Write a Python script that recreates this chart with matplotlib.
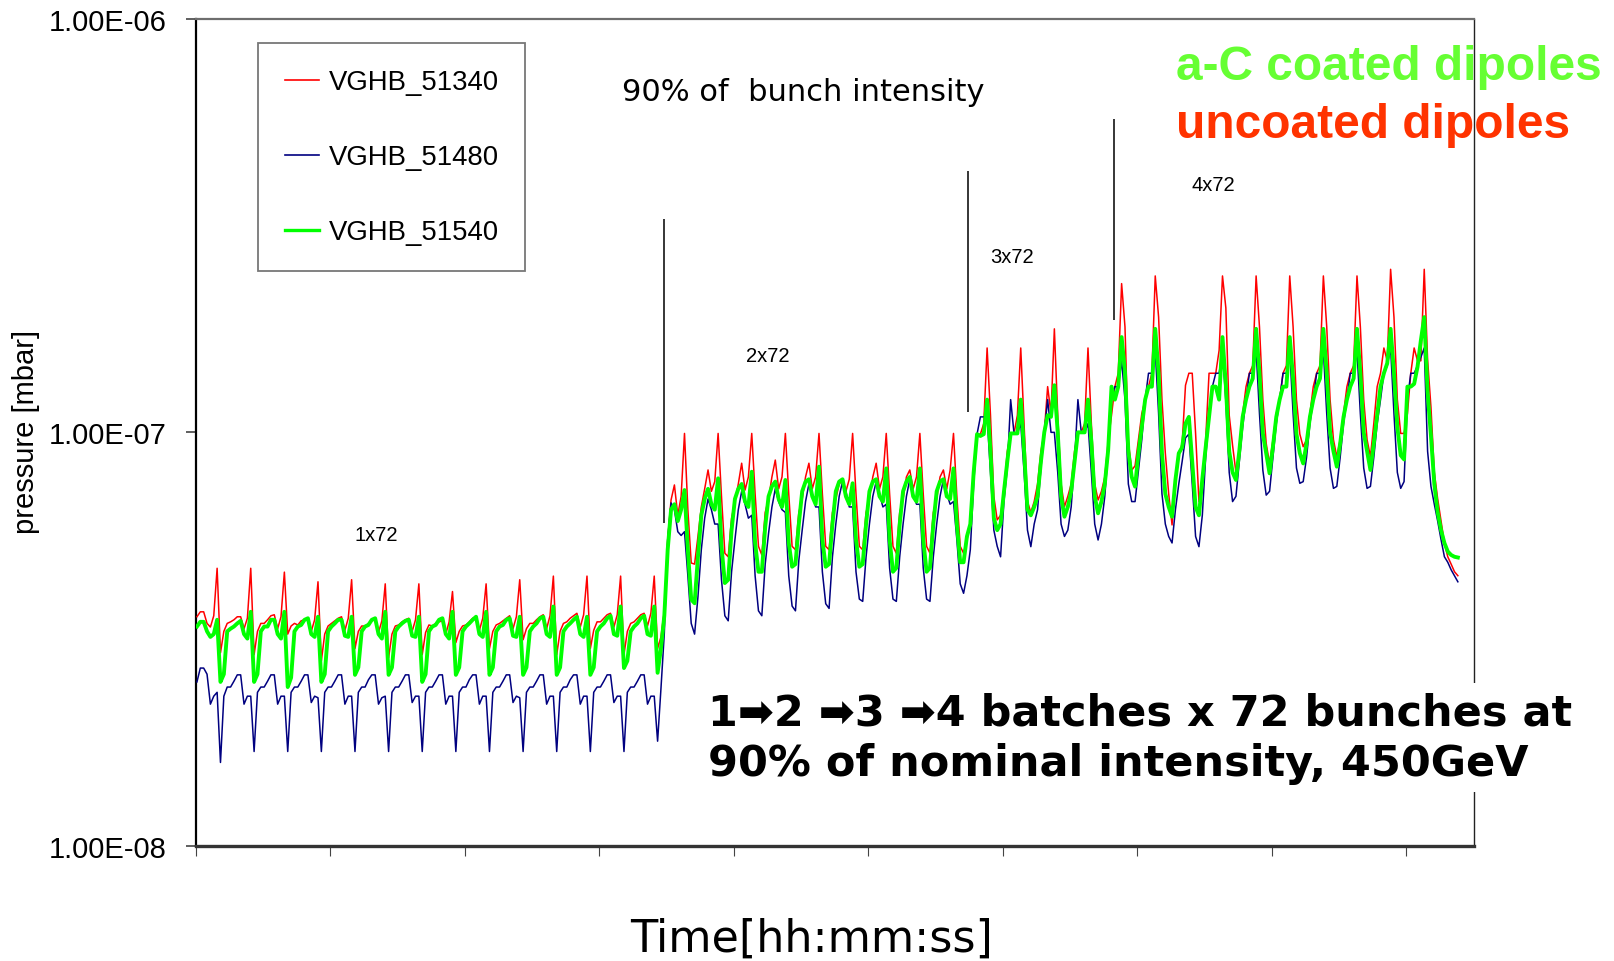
import matplotlib
matplotlib.use("Agg")
import matplotlib.pyplot as plt
import numpy as np
from matplotlib.ticker import FixedLocator, NullLocator, NullFormatter

# ---------------- data (pressure in units of 1e-8 mbar) ----------------
UNIT = 1e-8
T0 = 0.01      # time of first sample (tick units)
DT = 0.025     # sampling step (tick units)

# VGHB_51340 (red)
red_1x72 = [
    3.58, 3.68, 3.68, 3.45, 3.38, 3.60, 4.69, 2.93, 3.30, 3.45,
    3.48, 3.52, 3.58, 3.58, 3.35, 3.55, 4.69, 2.90, 3.30, 3.45,
    3.45, 3.52, 3.60, 3.62, 3.35, 3.58, 4.59, 3.25, 3.40, 3.45,
    3.42, 3.50, 3.52, 3.55, 3.30, 3.52, 4.35, 2.80, 3.25, 3.40,
    3.45, 3.50, 3.55, 3.58, 3.32, 3.55, 4.40, 3.00, 3.30, 3.40,
    3.40, 3.45, 3.50, 3.52, 3.28, 3.50, 4.30, 2.85, 3.25, 3.40,
    3.42, 3.48, 3.52, 3.55, 3.30, 3.52, 4.30, 2.90, 3.28, 3.42,
    3.40, 3.45, 3.48, 3.50, 3.25, 3.48, 4.12, 3.10, 3.30, 3.40,
    3.42, 3.48, 3.55, 3.58, 3.32, 3.55, 4.30, 3.00, 3.30, 3.42,
    3.45, 3.50, 3.55, 3.60, 3.35, 3.58, 4.40, 3.15, 3.35, 3.45,
    3.45, 3.52, 3.58, 3.62, 3.35, 3.60, 4.49, 2.90, 3.30, 3.45,
    3.48, 3.55, 3.60, 3.65, 3.38, 3.62, 4.49, 3.00, 3.32, 3.48,
    3.48, 3.55, 3.62, 3.65, 3.38, 3.62, 4.49, 2.90, 3.30, 3.45,
    3.48, 3.55, 3.62, 3.65, 3.40, 3.65, 4.49, 3.00, 3.20, 3.70,
]
red_2x72 = [
    5.50, 6.86, 7.46, 6.30, 7.00, 9.94, 6.50, 4.83, 4.80, 5.60,
    6.60, 7.30, 8.11, 7.20, 7.60, 9.94, 7.00, 5.10, 5.00, 6.20,
    6.80, 7.50, 8.42, 7.25, 7.80, 9.94, 7.10, 5.30, 5.05, 6.40,
    6.90, 7.80, 8.57, 7.30, 7.80, 9.94, 7.10, 5.30, 5.20, 6.40,
    6.90, 7.80, 8.42, 7.30, 7.80, 9.94, 7.10, 5.30, 5.20, 6.40,
    6.90, 7.50, 7.67, 7.20, 7.70, 9.94, 7.10, 5.30, 5.20, 6.40,
    6.90, 7.80, 8.42, 7.30, 7.80, 9.94, 7.10, 5.30, 5.10, 6.40,
    6.90, 7.80, 8.11, 7.30, 7.80, 9.94, 7.10, 5.30, 5.10, 6.40,
    6.90, 7.80, 8.11, 7.30, 8.10, 9.94, 7.00, 5.30, 5.10, 5.50,
]
red_3x72 = [
    6.00, 8.00, 9.90, 9.90, 10.5, 16.0, 11.0, 7.00, 6.14, 6.30,
    7.20, 9.00, 9.94, 9.94, 11.0, 16.0, 10.5, 6.80, 6.40, 6.80,
    7.50, 9.00, 10.0, 12.9, 11.1, 17.8, 11.0, 7.50, 6.61, 7.00,
    7.50, 9.00, 10.0, 10.0, 10.5, 16.0, 10.5, 7.50, 6.86, 7.20,
]
red_4x72 = [
    7.80, 9.50, 11.0, 12.9, 13.9, 22.9, 18.0, 9.50, 8.10, 8.30,
    9.60, 11.1, 12.0, 12.9, 13.9, 23.9, 19.0, 12.0, 8.90, 7.10,
    5.97, 7.70, 8.80, 9.40, 13.0, 13.9, 13.9, 9.94, 6.80, 7.60,
    9.60, 13.9, 13.9, 13.9, 15.8, 23.9, 20.0, 11.0, 9.30, 8.00,
    9.00, 11.1, 12.9, 13.9, 14.5, 23.9, 18.0, 12.0, 9.40, 8.40,
    9.58, 11.1, 12.0, 13.9, 14.5, 23.9, 18.0, 12.0, 9.90, 9.23,
    9.60, 11.1, 12.9, 13.9, 14.5, 23.9, 18.0, 12.0, 9.60, 8.73,
    9.60, 11.1, 12.9, 13.9, 14.5, 23.9, 18.0, 12.0, 9.60, 8.73,
    10.5, 12.9, 13.9, 16.0, 14.9, 24.8, 19.0, 12.0, 9.94, 9.94,
    11.1, 13.9, 16.0, 14.9, 14.9, 24.8, 15.0, 11.5, 8.00, 6.90,
]
red_tail = [6.10, 5.40, 5.00, 4.80, 4.60, 4.50]

# VGHB_51480 (navy)
blue_1x72 = [
    2.49, 2.69, 2.69, 2.60, 2.20, 2.30, 2.35, 1.59, 2.30, 2.42,
    2.42, 2.50, 2.59, 2.59, 2.20, 2.30, 2.30, 1.69, 2.35, 2.42,
    2.42, 2.50, 2.59, 2.59, 2.20, 2.30, 2.30, 1.69, 2.35, 2.42,
    2.42, 2.50, 2.59, 2.59, 2.22, 2.30, 2.28, 1.69, 2.35, 2.42,
    2.42, 2.50, 2.59, 2.59, 2.20, 2.30, 2.30, 1.69, 2.35, 2.42,
    2.42, 2.52, 2.59, 2.59, 2.20, 2.28, 2.30, 1.69, 2.35, 2.42,
    2.42, 2.50, 2.59, 2.59, 2.22, 2.30, 2.30, 1.69, 2.35, 2.42,
    2.42, 2.50, 2.59, 2.59, 2.20, 2.30, 2.30, 1.69, 2.35, 2.42,
    2.42, 2.52, 2.59, 2.59, 2.20, 2.30, 2.30, 1.69, 2.35, 2.42,
    2.42, 2.50, 2.59, 2.59, 2.22, 2.30, 2.28, 1.69, 2.35, 2.42,
    2.42, 2.50, 2.59, 2.59, 2.20, 2.30, 2.30, 1.69, 2.35, 2.42,
    2.42, 2.52, 2.59, 2.59, 2.20, 2.30, 2.30, 1.69, 2.35, 2.42,
    2.42, 2.50, 2.59, 2.59, 2.22, 2.30, 2.30, 1.69, 2.35, 2.42,
    2.42, 2.50, 2.59, 2.59, 2.20, 2.30, 2.30, 1.79, 2.40, 3.27,
]
blue_2x72 = [
    5.50, 6.75, 6.50, 5.75, 5.63, 5.75, 4.50, 3.45, 3.25, 4.00,
    5.20, 6.20, 6.90, 6.50, 6.00, 6.00, 4.40, 3.60, 3.50, 4.60,
    5.50, 6.50, 7.20, 6.70, 6.20, 6.30, 4.50, 3.70, 3.60, 4.80,
    5.70, 6.60, 7.30, 6.80, 6.50, 6.40, 4.50, 3.80, 3.70, 4.90,
    5.80, 6.80, 7.50, 7.10, 6.60, 6.60, 4.60, 3.85, 3.75, 5.00,
    6.00, 7.00, 7.60, 7.20, 6.60, 6.60, 4.60, 3.95, 3.90, 5.00,
    6.00, 7.00, 7.60, 7.10, 6.60, 6.70, 4.70, 3.95, 3.90, 5.00,
    6.00, 7.00, 7.70, 7.10, 6.70, 6.70, 4.70, 3.95, 3.90, 5.00,
    6.00, 7.00, 7.70, 7.10, 6.70, 6.80, 5.50, 4.30, 4.08, 4.50,
]
blue_3x72 = [
    5.20, 7.50, 9.90, 10.9, 10.9, 10.9, 8.00, 5.80, 5.30, 5.00,
    6.80, 8.20, 12.0, 9.94, 9.94, 10.5, 8.00, 5.80, 5.29, 6.00,
    6.50, 8.20, 10.0, 12.0, 10.0, 10.0, 8.00, 6.00, 5.60, 5.80,
    6.60, 8.50, 12.0, 10.0, 10.0, 10.5, 8.00, 6.00, 5.49, 6.00,
]
blue_4x72 = [
    7.00, 9.00, 12.0, 12.9, 12.9, 14.9, 12.0, 7.50, 6.80, 6.80,
    8.10, 9.60, 12.0, 13.9, 13.9, 15.8, 11.1, 7.10, 6.00, 5.60,
    5.40, 6.50, 7.50, 8.50, 9.70, 9.90, 7.50, 5.60, 5.29, 6.30,
    8.70, 10.9, 12.9, 13.9, 13.9, 15.8, 11.9, 8.00, 6.80, 7.00,
    8.50, 10.3, 12.0, 13.9, 13.9, 15.8, 11.1, 8.10, 7.05, 7.20,
    8.70, 10.5, 12.0, 13.9, 13.9, 15.8, 11.1, 8.20, 7.53, 7.60,
    8.70, 10.5, 12.0, 13.9, 13.9, 15.8, 11.1, 8.20, 7.32, 7.40,
    8.70, 10.5, 12.0, 13.9, 13.9, 15.8, 11.1, 8.20, 7.32, 7.40,
    8.70, 10.5, 12.0, 13.9, 14.5, 16.0, 11.1, 8.00, 7.32, 7.60,
    12.0, 13.9, 13.9, 14.5, 15.2, 16.0, 9.00, 7.40, 6.70, 6.10,
]
blue_tail = [5.50, 5.00, 4.85, 4.65, 4.50, 4.35]

# VGHB_51540 (green)
green_1x72 = [
    3.39, 3.48, 3.48, 3.30, 3.20, 3.25, 3.52, 2.49, 2.60, 3.30,
    3.35, 3.39, 3.45, 3.50, 3.25, 3.17, 3.68, 2.49, 2.60, 3.30,
    3.39, 3.39, 3.52, 3.52, 3.25, 3.17, 3.68, 2.42, 2.55, 3.30,
    3.39, 3.42, 3.52, 3.55, 3.25, 3.20, 3.58, 2.49, 2.60, 3.30,
    3.39, 3.45, 3.52, 3.52, 3.22, 3.20, 3.58, 2.59, 2.70, 3.30,
    3.39, 3.42, 3.52, 3.55, 3.25, 3.17, 3.68, 2.59, 2.70, 3.30,
    3.39, 3.45, 3.50, 3.52, 3.22, 3.20, 3.58, 2.49, 2.60, 3.30,
    3.39, 3.42, 3.52, 3.55, 3.25, 3.17, 3.68, 2.59, 2.70, 3.30,
    3.39, 3.45, 3.52, 3.58, 3.25, 3.20, 3.68, 2.59, 2.70, 3.30,
    3.39, 3.42, 3.52, 3.55, 3.22, 3.20, 3.58, 2.59, 2.70, 3.30,
    3.39, 3.45, 3.55, 3.58, 3.25, 3.20, 3.79, 2.59, 2.70, 3.30,
    3.39, 3.45, 3.52, 3.58, 3.25, 3.20, 3.58, 2.59, 2.70, 3.30,
    3.39, 3.45, 3.55, 3.60, 3.25, 3.22, 3.79, 2.69, 2.80, 3.30,
    3.39, 3.45, 3.55, 3.60, 3.25, 3.22, 3.79, 2.62, 3.00, 3.60,
]
green_2x72 = [
    5.20, 6.50, 6.70, 6.10, 6.50, 7.25, 5.20, 3.94, 3.86, 5.00,
    6.30, 6.90, 7.30, 6.70, 6.50, 7.74, 5.30, 4.32, 4.40, 5.80,
    6.90, 7.30, 7.50, 6.80, 6.60, 8.03, 5.40, 4.60, 4.60, 5.90,
    7.00, 7.40, 7.60, 6.90, 6.60, 7.67, 5.40, 4.73, 4.80, 6.00,
    7.20, 7.60, 7.70, 7.00, 6.70, 8.26, 5.50, 4.73, 4.80, 6.00,
    7.20, 7.60, 7.70, 7.00, 6.70, 7.53, 5.50, 4.73, 4.80, 6.00,
    7.20, 7.60, 7.70, 7.00, 6.80, 8.18, 5.50, 4.60, 4.70, 6.00,
    7.20, 7.60, 7.80, 7.00, 6.80, 8.18, 5.50, 4.60, 4.70, 6.00,
    7.20, 7.60, 7.70, 7.00, 6.90, 8.18, 6.00, 4.85, 4.85, 5.60,
]
green_3x72 = [
    6.00, 8.00, 9.90, 9.80, 9.90, 12.0, 9.00, 6.20, 5.80, 6.00,
    7.18, 8.50, 9.94, 9.94, 9.94, 12.0, 9.00, 6.50, 6.30, 6.60,
    7.00, 8.50, 10.0, 11.0, 10.9, 13.0, 10.0, 7.00, 6.25, 6.60,
    7.20, 8.50, 10.0, 10.0, 10.0, 12.0, 9.50, 7.00, 6.37, 6.80,
]
green_4x72 = [
    7.50, 9.06, 12.9, 12.0, 12.9, 17.0, 14.0, 9.00, 7.80, 7.39,
    8.90, 10.3, 12.0, 12.9, 12.9, 17.8, 13.9, 8.90, 7.10, 6.60,
    6.25, 7.67, 8.90, 9.20, 10.5, 10.9, 8.50, 6.60, 6.30, 7.70,
    9.20, 10.9, 12.9, 12.9, 12.0, 17.0, 13.0, 9.00, 8.00, 7.67,
    9.00, 10.9, 12.0, 12.9, 13.5, 17.8, 13.9, 9.94, 8.90, 7.96,
    9.23, 10.9, 12.0, 12.9, 12.9, 17.0, 13.5, 9.90, 8.90, 8.41,
    9.40, 10.9, 12.0, 12.9, 13.5, 17.8, 13.9, 10.0, 9.00, 8.26,
    9.40, 10.9, 12.0, 12.9, 13.5, 17.8, 13.9, 10.0, 9.00, 8.11,
    9.40, 11.0, 12.9, 13.9, 14.7, 17.8, 13.9, 10.3, 8.80, 8.60,
    12.9, 12.9, 13.1, 14.4, 16.7, 19.0, 12.5, 9.80, 7.50, 6.40,
]
green_tail = [5.80, 5.40, 5.15, 5.05, 5.00, 4.98]

series_labels = ["VGHB_51340", "VGHB_51480", "VGHB_51540"]
series_colors = ["#ff0000", "#000080", "#00ff00"]

# batch-injection markers (tick units, mbar)
marker_x = [3.48, 5.74, 6.83]
marker_low = [6.04e-8, 1.12e-7, 1.87e-7]
marker_high = [3.29e-7, 4.28e-7, 5.74e-7]

batch_labels = ["1x72", "2x72", "3x72", "4x72"]
batch_label_x = [1.346, 4.255, 6.068, 7.568]
batch_label_y = [5.67e-8, 1.538e-7, 2.666e-7, 3.98e-7]

y_ticks = [1e-8, 1e-7, 1e-6]
y_tick_labels = ["1.00E-08", "1.00E-07", "1.00E-06"]
x_ticks = list(range(10))
x_max = 9.505

# ---------------- figure ----------------
W, H = 1614, 962
fig = plt.figure(figsize=(W / 100, H / 100), dpi=100)


def fx(px):
    return px / W


def fy(py):
    return 1 - py / H


ax = fig.add_axes([fx(195.6), fy(846.7), fx(1474) - fx(195.6), fy(20) - fy(846.7)])

red = np.array(red_1x72 + red_2x72 + red_3x72 + red_4x72 + red_tail) * UNIT
blue = np.array(blue_1x72 + blue_2x72 + blue_3x72 + blue_4x72 + blue_tail) * UNIT
green = np.array(green_1x72 + green_2x72 + green_3x72 + green_4x72 + green_tail) * UNIT
t = T0 + DT * np.arange(len(red))

l1, = ax.plot(t, red, color=series_colors[0], lw=1.1, label=series_labels[0], zorder=3)
l2, = ax.plot(t, blue, color=series_colors[1], lw=1.1, label=series_labels[1], zorder=4)
l3, = ax.plot(t, green, color=series_colors[2], lw=2.8, label=series_labels[2], zorder=5)

ax.vlines(marker_x, marker_low, marker_high, colors="black", lw=1.1, zorder=6)

ax.set_yscale("log")
ax.set_ylim(1e-8, 1e-6)
ax.set_xlim(0, x_max)
ax.yaxis.set_major_locator(FixedLocator(y_ticks))
ax.set_yticklabels(y_tick_labels, fontfamily="Liberation Sans", fontsize=21)
ax.yaxis.set_minor_locator(NullLocator())
ax.yaxis.set_minor_formatter(NullFormatter())
ax.xaxis.set_major_locator(FixedLocator(x_ticks))
ax.set_xticklabels([""] * len(x_ticks))
ax.tick_params(axis="y", which="major", direction="out", length=7, width=1.2,
               color="#444444", pad=14)
ax.tick_params(axis="x", which="major", direction="out", length=7, width=0.8,
               color="#444444")

ax.spines["left"].set_color("black")
ax.spines["left"].set_linewidth(1.6)
ax.spines["bottom"].set_color("#333333")
ax.spines["bottom"].set_linewidth(2.4)
ax.spines["top"].set_color("#6e6e6e")
ax.spines["top"].set_linewidth(1.6)
ax.spines["right"].set_color("#222222")
ax.spines["right"].set_linewidth(1.0)

for lab, xv, yv in zip(batch_labels, batch_label_x, batch_label_y):
    ax.text(xv, yv, lab, fontsize=14.5, fontfamily="Liberation Sans",
            ha="center", va="center", zorder=7)

leg = fig.legend(handles=[l1, l2, l3], labels=series_labels,
                 loc="upper left", bbox_to_anchor=(fx(258.4), fy(44.3)),
                 bbox_transform=fig.transFigure,
                 prop={"family": "Liberation Sans", "size": 19.8},
                 frameon=True, fancybox=False, borderpad=0.95,
                 labelspacing=1.78, handlelength=1.25, handletextpad=0.35,
                 borderaxespad=0)
leg.get_frame().set_edgecolor("#555555")
leg.get_frame().set_linewidth(1.3)
leg.get_lines()[0].set_linewidth(1.2)
leg.get_lines()[1].set_linewidth(1.2)
leg.get_lines()[2].set_linewidth(2.4)

fig.text(fx(803.4), fy(92.6), "90% of  bunch intensity", fontsize=22,
         fontfamily="DejaVu Sans", ha="center", va="center")

fig.text(fx(1176.5), fy(67.5), "a-C coated dipoles", fontsize=34.5,
         fontfamily="Liberation Sans", fontweight="bold", color="#66ff33",
         ha="left", va="center", zorder=10)
fig.text(fx(1176.5), fy(125.5), "uncoated dipoles", fontsize=34.5,
         fontfamily="Liberation Sans", fontweight="bold", color="#ff3300",
         ha="left", va="center", zorder=10)

fig.text(fx(708.2), fy(738.5),
         "1\u27a12 \u27a13 \u27a14 batches x 72 bunches at\n90% of nominal intensity, 450GeV",
         fontsize=31, fontfamily=["DejaVu Sans"], fontweight="bold",
         ha="left", va="center", linespacing=1.25, zorder=10,
         bbox=dict(facecolor="white", edgecolor="none", pad=6))

fig.text(fx(25.7), fy(432), "pressure [mbar]", rotation=90, fontsize=21,
         fontfamily="Liberation Sans", ha="center", va="center")
fig.text(fx(811.6), fy(938.7), "Time[hh:mm:ss]", fontsize=32,
         fontfamily="DejaVu Sans", ha="center", va="center")

fig.savefig("out.png", dpi=100)
